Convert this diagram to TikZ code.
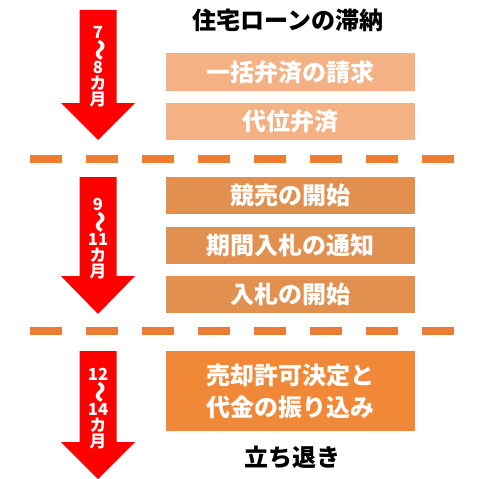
\documentclass[tikz,border=0pt]{standalone}
\usepackage{fontspec}
\usepackage{graphicx}
\setmainfont{Noto Sans CJK JP}
\definecolor{palestep}{HTML}{F4B183}
\definecolor{midstep}{HTML}{E2904F}
\definecolor{laststep}{HTML}{F08838}
\definecolor{dashorange}{HTML}{ED7D31}
\newcommand{\periodarrow}[3]{%
  \fill[red] (79.5,#1) -- (116.5,#1) -- (116.5,#2) -- (135,#2) -- (98,#3)
    -- (61,#2) -- (79.5,#2) -- cycle;}
\newcommand{\wavedash}{\rotatebox[origin=c]{-90}{\scalebox{1.3}[1.6]{〜}}}

\begin{document}
\begin{tikzpicture}[x=0.75pt,y=-0.75pt,
  stepbox/.style={fill=#1, text=white, font=\bfseries\fontsize{18}{24}\selectfont,
    minimum width=186.75pt, minimum height=27.75pt, inner sep=0pt, align=center},
  periodlabel/.style={text=white, font=\bfseries\fontsize{12.5}{12}\selectfont,
    align=center, inner sep=0pt},
  heading/.style={font=\bfseries\fontsize{18}{24}\selectfont, inner sep=0pt},
  dashline/.style={draw=dashorange, line width=5.6pt, dash pattern=on 24pt off 18pt}]
\useasboundingbox (0,0) rectangle (492,478);

% arrows for the time spans
\periodarrow{10}{103}{140}
\periodarrow{177}{276}{314}
\periodarrow{351}{442}{479}
\node[periodlabel] (span1) at (98,67) {7\\\wavedash\\8\\カ\\月};
\node[periodlabel] (span2) at (98,238.5) {9\\\wavedash\\11\\カ\\月};
\node[periodlabel] (span3) at (98,408.5) {12\\\wavedash\\14\\カ\\月};

% separators
\draw[dashline] (30,159) -- (454,159);
\draw[dashline] (30,331) -- (454,331);

% steps
\node[heading] (start) at (288,20) {住宅ローンの滞納};
\node[stepbox=palestep, minimum height=28.5pt] (demand) at (290.5,72) {一括弁済の請求};
\node[stepbox=palestep] (subrogation) at (290.5,121.5) {代位弁済};
\node[stepbox=midstep] (auction) at (290.5,195.5) {競売の開始};
\node[stepbox=midstep] (notice) at (290.5,245) {期間入札の通知};
\node[stepbox=midstep] (bidding) at (290.5,294.5) {入札の開始};
\node[stepbox=laststep, minimum height=60pt] (payment) at (290.5,391) {売却許可決定と\\代金の振り込み};
\node[heading] (eviction) at (292,457) {立ち退き};
\end{tikzpicture}
\end{document}
